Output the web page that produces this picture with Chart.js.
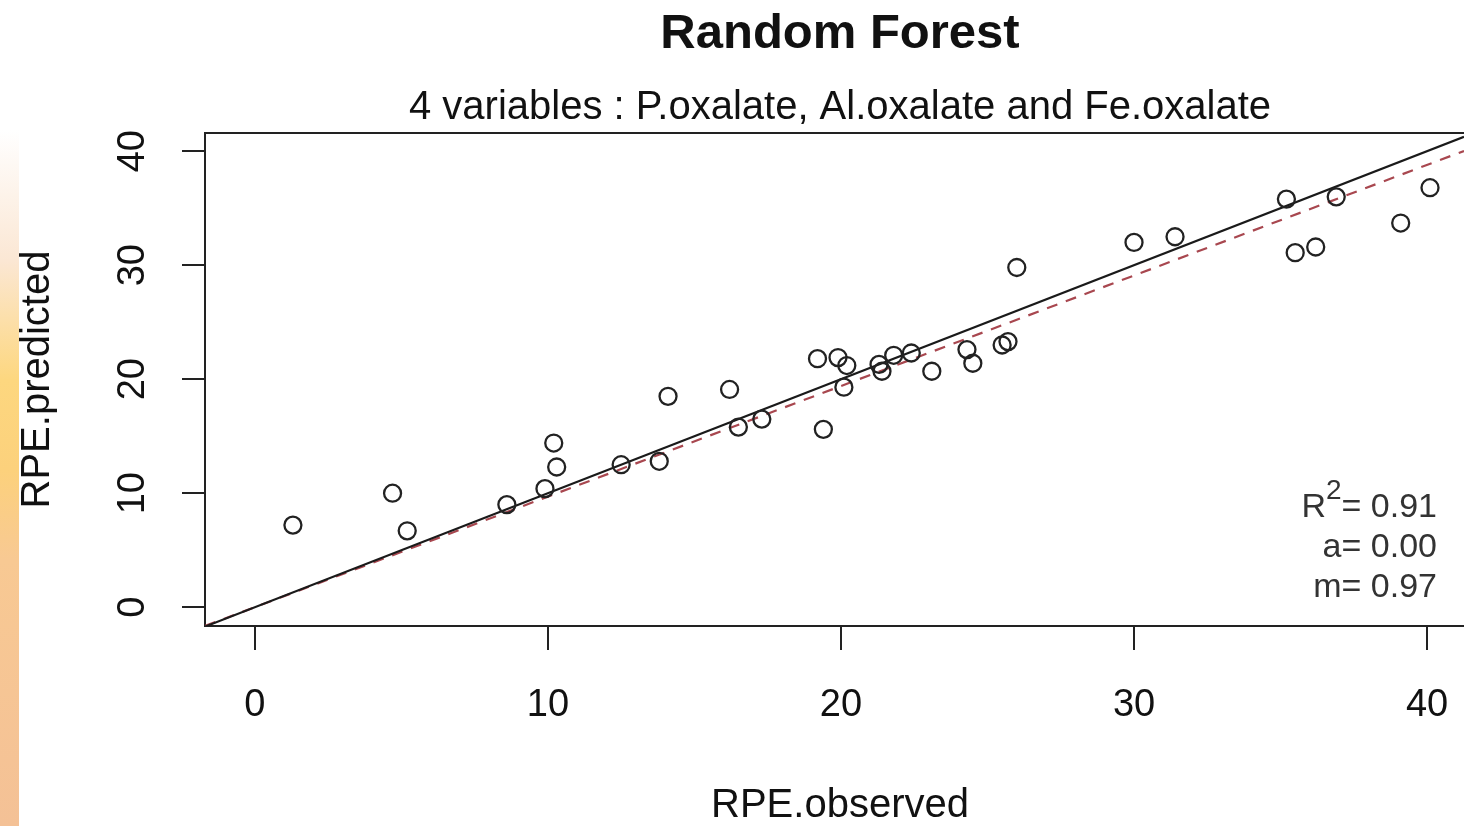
<!DOCTYPE html>
<html lang="en">
<head>
    <meta charset="UTF-8">
    <title>Random Forest</title>
    <script src="https://cdn.jsdelivr.net/npm/chart.js@4.4.0/dist/chart.umd.min.js"></script>
    <style>
        html, body { margin: 0; padding: 0; background: #fff; overflow: hidden; }
        #wrap { position: relative; width: 1464px; height: 826px; }
        /* bande orange a gauche (decor de la diapositive) */
        #strip {
            position: absolute; left: 0; top: 0; width: 19px; height: 826px;
            background: linear-gradient(to bottom, #fff 0px, #fff 130px, #fbe7d4 260px,
                #fdd77f 380px, #fcd17c 470px, #f8c993 560px, #f4c196 826px);
        }
        canvas { position: absolute; left: 0; top: 0; }
    </style>
</head>
<body>
<div id="wrap">
    <div id="strip"></div>
    <canvas id="rf-chart" width="1464" height="826"></canvas>
</div>

<script>
    // Donnees
    const observed  = [1.3, 4.7, 5.2, 8.6, 9.9, 10.2, 10.3, 12.5, 13.8, 14.1,
                       16.2, 16.5, 17.3, 19.2, 19.4, 19.9, 20.2, 20.1, 21.3, 21.4,
                       21.8, 22.4, 23.1, 24.3, 24.5, 25.5, 25.7, 26.0, 30.0, 31.4,
                       35.2, 35.5, 36.2, 36.9, 39.1, 40.1];
    const predicted = [7.2, 10.0, 6.7, 9.0, 10.4, 14.4, 12.3, 12.5, 12.8, 18.5,
                       19.1, 15.8, 16.5, 21.8, 15.6, 21.9, 21.2, 19.3, 21.3, 20.7,
                       22.1, 22.3, 20.7, 22.6, 21.4, 23.0, 23.3, 29.8, 32.0, 32.5,
                       35.8, 31.1, 31.6, 36.0, 33.7, 36.8];
    const xTicks = [0, 10, 20, 30, 40];
    const yTicks = [0, 10, 20, 30, 40];
    const xRange = [-1.7, 41.26];
    const yRange = [-1.65, 41.6];

    // droite 1:1 et droite de regression
    const oneToOne = { a: 0, m: 1 };
    const fit = { a: 0.00, m: 0.97, r2: 0.91 };

    const lineFrom = p => xRange.map(x => ({ x: x, y: p.a + p.m * x }));

    const plotCenterX = 840;
    const FONT = '"Liberation Sans", Arial, sans-serif';

    // Textes facon R (titres, graduations, statistiques)
    const rText = {
        id: 'rText',
        afterDraw(chart) {
            const ctx = chart.ctx;
            const area = chart.chartArea;
            const xs = chart.scales.x, ys = chart.scales.y;
            ctx.save();
            ctx.fillStyle = '#111';
            ctx.textBaseline = 'middle';
            ctx.textAlign = 'center';

            // cadre (haut)
            ctx.strokeStyle = '#222';
            ctx.lineWidth = 2;
            ctx.beginPath();
            ctx.moveTo(area.left - 1, area.top);
            ctx.lineTo(area.right + 2, area.top);
            ctx.stroke();

            ctx.font = 'bold 49px ' + FONT;
            ctx.fillText('Random Forest', plotCenterX, 34);
            ctx.font = '40px ' + FONT;
            ctx.fillText('4 variables : P.oxalate, Al.oxalate and Fe.oxalate', plotCenterX, 108);

            ctx.font = '38px ' + FONT;
            xTicks.forEach(v => ctx.fillText(String(v), xs.getPixelForValue(v), 706));
            yTicks.forEach(v => {
                ctx.save();
                ctx.translate(134, ys.getPixelForValue(v));
                ctx.rotate(-Math.PI / 2);
                ctx.fillText(String(v), 0, 0);
                ctx.restore();
            });

            ctx.font = '40px ' + FONT;
            ctx.fillText('RPE.observed', plotCenterX, 806);
            ctx.save();
            ctx.translate(38, (area.top + area.bottom) / 2);
            ctx.rotate(-Math.PI / 2);
            ctx.fillText('RPE.predicted', 0, 0);
            ctx.restore();

            // statistiques
            ctx.fillStyle = '#333';
            ctx.textAlign = 'right';
            ctx.font = '34px ' + FONT;
            const rx = 1437;
            const r2txt = '= ' + fit.r2.toFixed(2);
            ctx.fillText(r2txt, rx, 508);
            const w1 = ctx.measureText(r2txt).width;
            ctx.font = '28px ' + FONT;
            ctx.fillText('2', rx - w1, 491);
            const w2 = ctx.measureText('2').width;
            ctx.font = '34px ' + FONT;
            ctx.fillText('R', rx - w1 - w2, 508);
            ctx.fillText('a= ' + fit.a.toFixed(2), rx, 548);
            ctx.fillText('m= ' + fit.m.toFixed(2), rx, 588);
            ctx.restore();
        }
    };

    const points = observed.map((x, i) => ({ x: x, y: predicted[i] }));

    new Chart(document.getElementById('rf-chart').getContext('2d'), {
        type: 'scatter',
        data: {
            datasets: [
                {
                    label: 'RPE',
                    data: points,
                    pointStyle: 'circle',
                    pointRadius: 8.5,
                    pointBorderWidth: 2.3,
                    borderColor: '#222',
                    backgroundColor: 'rgba(0,0,0,0)',
                    order: 1
                },
                {
                    label: '1:1',
                    type: 'line',
                    data: lineFrom(oneToOne),
                    borderColor: '#1a1a1a',
                    borderWidth: 2.2,
                    pointRadius: 0,
                    order: 2
                },
                {
                    label: 'fit',
                    type: 'line',
                    data: lineFrom(fit),
                    borderColor: '#a8474f',
                    borderWidth: 2.2,
                    borderDash: [11, 9],
                    pointRadius: 0,
                    order: 3
                }
            ]
        },
        options: {
            responsive: false,
            animation: false,
            layout: { autoPadding: false, padding: { top: 133, right: 0, left: 0, bottom: 0 } },
            plugins: { legend: { display: false }, tooltip: { enabled: false } },
            scales: {
                x: {
                    type: 'linear',
                    min: xRange[0], max: xRange[1],
                    afterBuildTicks: s => { s.ticks = xTicks.map(v => ({ value: v })); },
                    afterFit: s => { s.height = 200; },
                    grid: { drawOnChartArea: false, drawTicks: true, tickLength: 24, color: '#222', lineWidth: 2 },
                    border: { display: true, color: '#222', width: 2 },
                    ticks: { display: false }
                },
                y: {
                    type: 'linear',
                    min: yRange[0], max: yRange[1],
                    afterBuildTicks: s => { s.ticks = yTicks.map(v => ({ value: v })); },
                    afterFit: s => { s.width = 205; },
                    grid: { drawOnChartArea: false, drawTicks: true, tickLength: 23, color: '#222', lineWidth: 2 },
                    border: { display: true, color: '#222', width: 2 },
                    ticks: { display: false }
                }
            }
        },
        plugins: [rText]
    });
</script>
</body>
</html>
